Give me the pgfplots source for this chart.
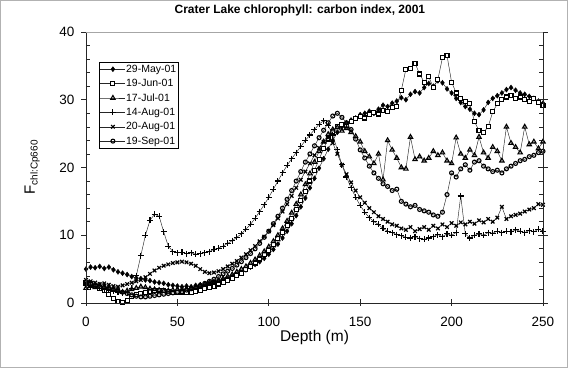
\documentclass[border=0pt]{standalone}
\usepackage{pgfplots}
\pgfplotsset{compat=1.18}
\usepackage{pgfplotstable}
\usepackage{fontspec}
\setmainfont{Liberation Sans}

\pgfplotstableread{
d D S T P X C
0 5.0 3.0 2.2 2.6 3.4 3.0
2.5 5.3 2.8 2.5 2.4 3.2 2.8
5 5.2 2.5 2.3 2.5 3.0 2.6
7.5 5.4 2.2 2.6 2.2 2.8 2.4
10 5.1 1.8 2.4 2.0 2.9 2.3
12.5 5.3 1.2 2.2 1.9 2.7 2.1
15 4.9 0.6 2.0 1.7 2.5 2.0
17.5 4.6 0.2 1.8 1.6 2.4 1.8
20 4.4 0.1 1.6 1.5 2.6 1.6
22.5 4.2 0.4 1.8 1.6 2.8 1.4
25 3.9 0.9 2.0 2.2 3.0 1.2
27.5 3.7 1.2 2.2 4.0 3.2 1.0
30 3.6 1.4 2.4 7.0 3.4 0.9
32.5 3.4 1.6 2.3 10.0 3.8 0.9
35 3.3 1.7 2.1 12.2 4.3 1.0
37.5 3.1 1.8 2.0 13.1 4.8 1.1
40 3.0 1.9 1.9 12.8 5.2 1.2
42.5 2.9 1.8 1.8 10.5 5.5 1.3
45 2.7 1.7 1.8 8.4 5.7 1.4
47.5 2.6 1.6 1.9 7.6 5.9 1.5
50 2.5 1.6 2.0 7.4 6.0 1.6
52.5 2.4 1.5 2.0 7.5 6.1 1.7
55 2.5 1.5 2.1 7.3 6.0 1.9
57.5 2.4 1.6 2.2 7.4 5.8 2.1
60 2.6 1.7 2.3 7.2 5.5 2.3
62.5 2.7 1.9 2.5 7.3 5.0 2.6
65 2.8 2.1 2.7 7.4 4.6 2.9
67.5 3.0 2.3 2.9 7.6 4.4 3.2
70 3.1 2.5 3.1 7.9 4.5 3.5
72.5 3.3 2.8 3.3 8.1 4.7 3.9
75 3.4 3.0 3.6 8.4 5.0 4.3
77.5 3.6 3.3 3.9 8.8 5.4 4.7
80 3.9 3.6 4.2 9.2 5.8 5.1
82.5 4.2 4.0 4.6 9.7 6.2 5.6
85 4.5 4.4 5.0 10.2 6.7 6.1
87.5 4.9 4.9 5.4 10.9 7.2 6.7
90 5.3 5.4 5.9 11.6 7.8 7.3
92.5 5.7 5.9 6.4 12.5 8.4 8.0
95 6.1 6.5 7.0 13.5 9.1 8.8
97.5 6.6 7.1 7.6 14.5 9.8 9.7
100 7.2 7.8 8.3 15.6 10.6 10.6
102.5 7.9 8.6 9.1 16.8 11.5 11.7
105 8.7 9.5 10.0 18.0 12.5 12.8
107.5 9.6 10.4 11.0 19.2 13.5 14.0
110 10.6 11.4 12.1 20.3 14.6 15.3
112.5 11.7 12.5 13.3 21.3 15.8 16.6
115 12.9 13.8 14.6 22.2 17.0 18.0
117.5 14.2 15.1 16.0 23.1 18.2 19.4
120 15.5 16.5 17.5 24.0 19.4 20.8
122.5 17.0 18.0 19.1 24.8 20.6 22.0
125 18.4 19.6 20.8 25.6 21.8 23.2
127.5 19.9 21.2 22.4 26.4 22.9 24.4
130 21.3 22.8 23.8 26.9 23.8 25.5
132.5 22.7 24.2 24.9 26.2 24.4 26.6
135 24.0 25.3 25.6 24.8 23.6 27.6
137.5 25.2 26.0 25.9 22.6 22.0 28.0
140 26.0 26.4 25.4 20.4 20.4 27.4
142.5 26.6 26.2 25.8 18.6 19.0 26.6
145 27.0 26.8 25.2 17.0 17.8 25.6
147.5 27.3 27.2 24.6 15.6 16.6 24.2
150 27.8 27.5 23.8 14.4 15.6 22.6
152.5 28.0 27.3 22.4 13.4 14.8 21.4
155 28.3 27.8 21.6 12.6 14.0 20.2
157.5 28.0 28.1 20.6 12.0 13.4 19.2
160 28.6 27.9 22.0 11.6 12.8 18.4
162.5 29.2 28.4 18.2 11.0 12.4 17.6
165 29.0 28.2 24.0 10.6 12.0 17.2
167.5 29.5 28.8 22.6 10.4 11.6 16.6
170 29.8 29.0 21.4 10.1 11.4 16.8
172.5 30.3 31.4 20.0 9.9 11.0 15.0
175 30.0 34.5 19.8 9.7 10.8 14.6
177.5 30.8 34.6 24.5 9.6 11.2 14.2
180 31.2 35.4 21.2 9.8 10.6 14.4
182.5 31.0 33.8 21.6 9.5 10.9 13.8
185 31.8 32.6 21.0 9.4 11.2 13.6
187.5 32.4 33.4 21.4 9.6 10.8 13.4
190 32.0 31.8 22.4 9.8 11.4 13.0
192.5 32.8 33.0 21.8 10.1 11.0 12.8
195 32.5 36.2 22.2 9.8 11.6 13.4
197.5 31.6 36.5 21.0 10.2 11.2 16.0
200 31.0 32.6 20.6 10.0 11.8 19.2
202.5 30.2 31.0 24.4 10.4 11.4 18.6
205 29.6 30.2 22.0 15.8 11.9 19.8
207.5 29.0 29.8 21.4 10.2 11.6 20.4
210 28.6 29.4 22.6 9.6 12.0 19.6
212.5 28.0 26.8 21.8 10.0 11.7 20.8
215 27.8 25.4 24.5 10.2 12.2 21.0
217.5 28.5 25.2 22.2 10.0 11.9 20.2
220 29.6 26.0 21.4 10.4 12.4 19.8
222.5 30.2 28.2 23.0 10.3 12.0 19.4
225 30.6 29.4 22.4 10.6 12.6 19.6
227.5 31.0 30.0 21.0 10.4 14.2 19.2
230 31.5 30.4 26.0 10.6 12.4 19.8
232.5 31.8 30.6 23.6 10.5 12.8 20.2
235 31.4 30.2 23.0 10.8 13.0 20.6
237.5 31.0 30.4 22.2 10.6 13.2 21.0
240 30.8 30.0 26.0 10.4 13.5 21.2
242.5 30.5 29.8 23.4 10.7 13.8 21.6
245 30.2 30.2 23.8 10.5 14.0 21.8
247.5 29.8 29.6 22.8 10.9 14.6 22.2
250 29.5 29.2 23.8 10.6 14.5 22.4
}\chl

\begin{document}
\begin{tikzpicture}
\useasboundingbox (0,0) rectangle (571pt,372pt);
\draw[gray!60, line width=1pt] (0.5pt,4.7pt) rectangle (567.3pt,371.5pt);
\begin{axis}[
  at={(86pt,69pt)}, anchor=south west,
  scale only axis, width=457pt, height=271pt,
  xmin=0, xmax=250, ymin=0, ymax=40,
  xtick={0,50,...,250}, ytick={0,10,...,40},
  minor y tick num=4,
  xtick pos=bottom,
  tick align=inside,
  major tick length=4pt, minor tick length=4pt,
  major y tick style={draw=none},
  tick style={black!85, line width=0.6pt},
  axis line style={draw=none},
  clip mode=individual,
  /pgf/number format/assume math mode=true,
  tick label style={font=\fontsize{13.5}{14}\selectfont},
  yticklabel style={xshift=-8pt},
  xticklabel style={yshift=-11pt},
  title={Crater Lake chlorophyll: carbon index, 2001},
  title style={font=\bfseries\fontsize{12}{13}\selectfont, at={(axis description cs:0.468,1.059)}, anchor=center},
  xlabel={Depth (m)},
  xlabel style={font=\fontsize{15.5}{16}\selectfont, at={(axis description cs:0.5,-0.129)}, anchor=center},
  ylabel={F\raisebox{-0.35ex}{\fontsize{10}{10}\selectfont chl:Cp660}},
  ylabel style={font=\fontsize{15}{16}\selectfont, at={(axis description cs:-0.118,0.5)}, anchor=center},
  legend style={at={(axis description cs:0.0284,0.889)}, anchor=north west, draw=black, fill=white,
    font=\fontsize{10.5}{12}\selectfont, inner xsep=1pt, inner ysep=2pt, row sep=4.5pt,
    nodes={inner sep=0.5pt}, cells={anchor=west}},
  legend image code/.code={\draw[mark repeat=2,mark phase=2,#1] plot coordinates {(0pt,0pt) (12.5pt,0pt) (25pt,0pt)};},
  every axis plot/.append style={black!85, line width=0.45pt},
]
\addplot[black!85, mark=diamond*, mark size=2.5pt, mark options={fill=black, draw=black}] table[x=d,y=D]{\chl};
\addplot[black!85, mark=square*, mark size=2pt, mark options={fill=white, draw=black, line width=1.1pt}] table[x=d,y=S]{\chl};
\addplot[black!85, mark=triangle, mark size=2.5pt, mark options={draw=black, line width=1.1pt}] table[x=d,y=T]{\chl};
\addplot[black!85, mark=+, mark size=3pt, mark options={draw=black, line width=1.1pt}] table[x=d,y=P]{\chl};
\addplot[black!85, mark=x, mark size=2.5pt, mark options={draw=black, line width=1.2pt}] table[x=d,y=X]{\chl};
\addplot[black!85, mark=o, mark size=2pt, mark options={draw=black, line width=1.1pt}] table[x=d,y=C]{\chl};
\legend{29-May-01,19-Jun-01,17-Jul-01,14-Aug-01,20-Aug-01,19-Sep-01}
\pgfplotsinvokeforeach{0,10,20,30,40}{
  \draw[black!85, line width=0.6pt] (axis cs:0,#1) -- ++(-5pt,0pt);
  \draw[black!85, line width=0.6pt] ([xshift=-5pt]axis cs:250,#1) -- ++(10pt,0pt);
}
\pgfplotsinvokeforeach{0,50,100,150,200,250}{
  \draw[black!85, line width=0.6pt] (axis cs:#1,0) -- ++(0pt,-3pt);
}
\draw[black!85, line width=0.7pt] (rel axis cs:0,1) -- (rel axis cs:0,0) -- (rel axis cs:1,0) -- (rel axis cs:1,1);
\draw[gray!70, line width=0.8pt] (rel axis cs:0,1) -- (rel axis cs:1,1);
\end{axis}
\end{tikzpicture}
\end{document}
